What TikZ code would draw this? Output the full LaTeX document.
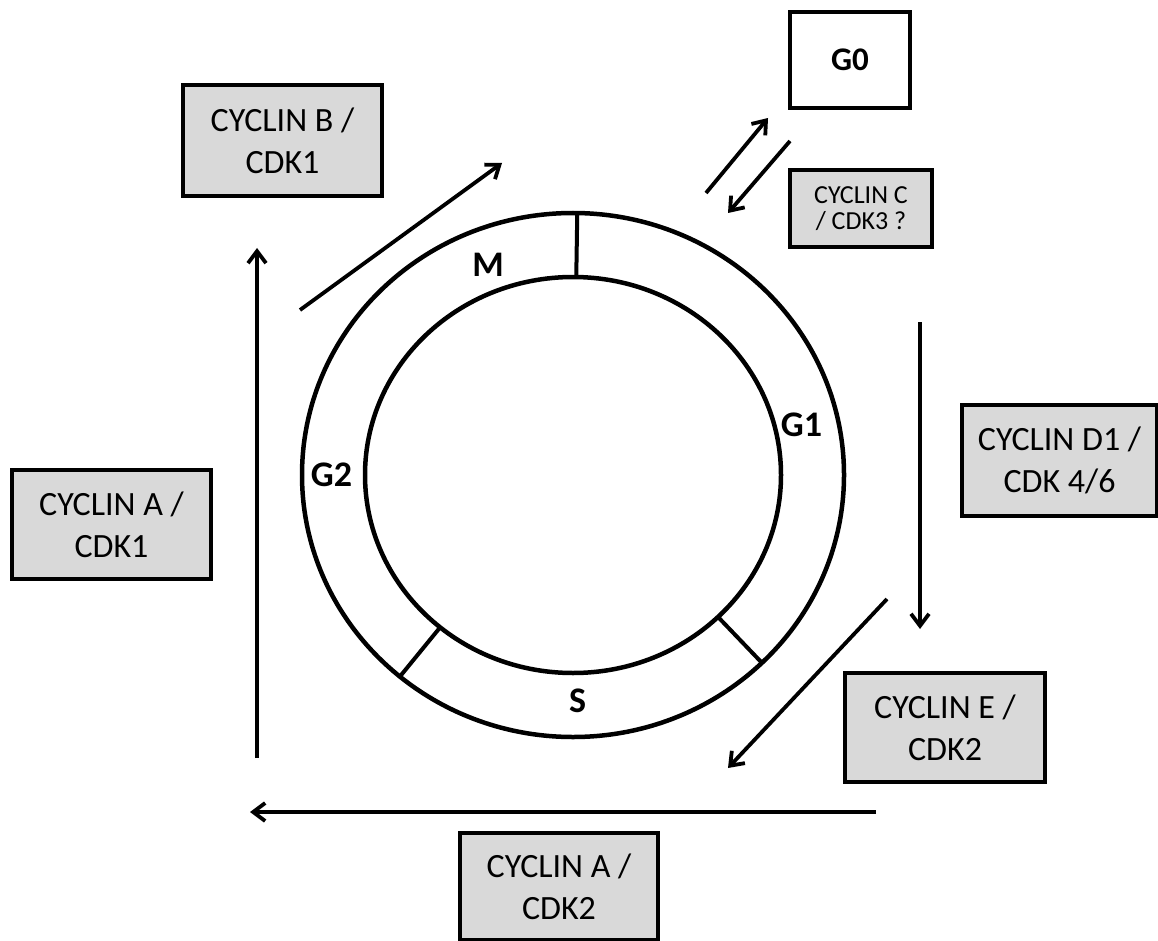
\documentclass[tikz,border=0pt]{standalone}
\usepackage{fontspec}
\setmainfont{Carlito}
\usetikzlibrary{arrows.meta,calc}
\definecolor{boxgray}{RGB}{217,217,217}
\begin{document}
\begin{tikzpicture}[x=1pt,y=-1pt,
  cbox/.style={draw=black, line width=4.3pt, fill=boxgray, inner sep=0pt, align=center,
    font=\fontsize{34}{42}\selectfont},
  smallbox/.style={cbox, font=\fontsize{26}{26}\selectfont},
  phase/.style={inner sep=0pt, font=\bfseries\fontsize{36}{40}\selectfont},
  ring/.style={line width=4.5pt},
  divider/.style={line width=4pt},
  arr/.style={line width=3.8pt, -{Straight Barb[length=12pt,width=18pt]}}
]
\useasboundingbox (0,0) rectangle (1158,941);
\fill[white] (0,0) rectangle (1158,941);

% ring
\coordinate (c) at (573,475);
\draw[ring] (c) ellipse [x radius=271, y radius=262];
\draw[ring] (c) ellipse [x radius=208, y radius=198];
\draw[divider] ($(c)+(-89.1:271 and 262)$) -- ($(c)+(-89.1:208 and 198)$);
\draw[divider] ($(c)+(45.8:271 and 262)$) -- ($(c)+(45.8:208 and 198)$);
\draw[divider] ($(c)+(129.7:271 and 262)$) -- ($(c)+(129.7:208 and 198)$);

% phase labels
\node[phase] (M) at (488,264.5) {M};
\node[phase] (G1) at (801.5,424.5) {G1};
\node[phase] (G2) at (331.5,475) {G2};
\node[phase] (S) at (577.5,701) {S};

% boxes
\node[draw=black, line width=4.3pt, fill=white, minimum width=120pt, minimum height=96pt,
  inner sep=0pt, font=\bfseries\fontsize{33}{38}\selectfont] (G0) at (850,60) {G0};
\node[smallbox, minimum width=142pt, minimum height=77pt] (cycC) at (861,208.5) {CYCLIN C\\/ CDK3 ?};
\node[cbox, minimum width=199pt, minimum height=111pt] (cycB) at (282.5,140.5) {CYCLIN B /\\CDK1};
\node[cbox, minimum width=199pt, minimum height=109pt] (cycA1) at (111.5,524.5) {CYCLIN A /\\CDK1};
\node[cbox, minimum width=195pt, minimum height=111pt] (cycD) at (1059.5,460.5) {CYCLIN D1 /\\CDK 4/6};
\node[cbox, minimum width=200pt, minimum height=109pt] (cycE) at (945,727.5) {CYCLIN E /\\CDK2};
\node[cbox, minimum width=198pt, minimum height=107pt] (cycA2) at (559,886.5) {CYCLIN A /\\CDK2};

% arrow end points
\coordinate (a1s) at (706,193); \coordinate (a1e) at (768,118);
\coordinate (a2s) at (790,141); \coordinate (a2e) at (728,213);
\coordinate (a3s) at (300,310); \coordinate (a3e) at (502,163);
\coordinate (a4s) at (257,758); \coordinate (a4e) at (257,248);
\coordinate (a5s) at (920,322); \coordinate (a5e) at (920,629);
\coordinate (a6s) at (887,599); \coordinate (a6e) at (728,768);
\coordinate (a7s) at (876,812); \coordinate (a7e) at (250,812);

\draw[arr] (a1s) -- (a1e);
\draw[arr] (a2s) -- (a2e);
\draw[arr] (a3s) -- (a3e);
\draw[arr] (a4s) -- (a4e);
\draw[arr] (a5s) -- (a5e);
\draw[arr] (a6s) -- (a6e);
\draw[arr] (a7s) -- (a7e);
\end{tikzpicture}
\end{document}
